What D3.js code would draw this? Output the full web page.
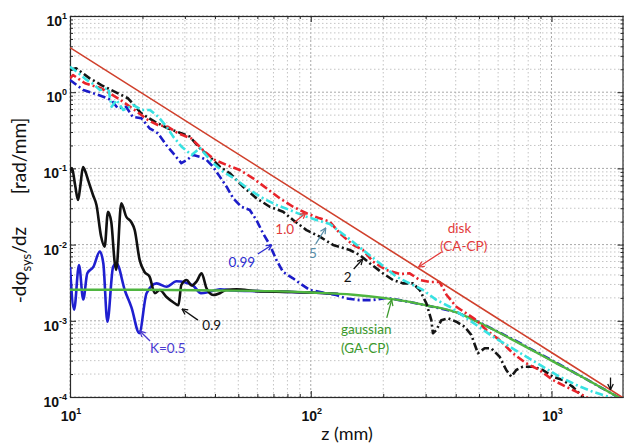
<!DOCTYPE html>
<html><head><meta charset="utf-8">
<script src="https://cdn.jsdelivr.net/npm/d3@7"></script>
<style>body{margin:0;background:#fff}svg{display:block}</style>
</head><body>
<svg id="c" width="624" height="446"></svg>
<script>
// ---------- data ----------
const diskZ = [10, 100, 1000, 2000];
const diskY = [3.84, 0.0384, 3.84e-4, 9.6e-5];

const gaussZ = [10, 20, 40, 70, 100, 150, 200, 250, 300, 400, 500, 700, 1000, 1400, 2000];
const gaussY = [2.55e-3, 2.55e-3, 2.5e-3, 2.45e-3, 2.35e-3, 2.2e-3, 2.0e-3, 1.8e-3, 1.6e-3, 1.3e-3, 9.5e-4, 5.5e-4, 3.0e-4, 1.7e-4, 9.0e-5];

const k05Z = [10, 10.4, 10.9, 11.35, 11.8, 12.5, 13.3, 13.75, 14.3, 15.1, 15.6, 16.9, 18.0, 19.4, 20.8, 22.9, 25.2, 27.7, 30.0, 32.5, 35, 38, 42, 47.5, 60, 80, 100, 130];
const k05Y = [5.1e-3, 1.4e-3, 5.4e-3, 1.9e-3, 4.2e-3, 5.1e-3, 8.1e-3, 5.7e-3, 9.7e-4, 5.1e-3, 5.7e-3, 2.5e-3, 1.5e-3, 6.9e-4, 2.3e-3, 3.1e-3, 2.8e-3, 3.3e-3, 3.2e-3, 2.9e-3, 2.3e-3, 2.4e-3, 2.6e-3, 2.5e-3, 2.45e-3, 2.4e-3, 2.35e-3, 2.25e-3];

const k09Z = [10, 10.19, 10.5, 10.8, 11.05, 11.32, 11.6, 11.88, 12.46, 12.88, 13.45, 13.93, 14.38, 14.84, 15.33, 15.56, 16.33, 17.13, 17.96, 18.56, 19.46, 20.4, 21.4, 22.5, 23.6, 25.1, 27.2, 28.2, 29.0, 30.5, 32.0, 33.6, 35.2, 36.9, 39.3, 41.9, 44.4, 49.2, 60, 80, 100, 130];
const k09Y = [0.09, 0.101, 0.0605, 0.0385, 0.0605, 0.104, 0.0897, 0.0705, 0.0448, 0.0331, 0.013, 0.0094, 0.027, 0.0198, 0.0059, 0.00465, 0.0348, 0.0232, 0.0198, 0.0156, 0.0063, 0.00437, 0.0038, 0.0023, 0.00254, 0.00207, 0.0017, 0.0016, 0.00295, 0.00343, 0.0029, 0.0033, 0.0042, 0.00267, 0.00218, 0.0023, 0.00254, 0.0026, 0.00245, 0.0024, 0.00235, 0.00225];

const k099Z = [10, 10.66, 11.35, 12.5, 13.75, 14.84, 15.8, 17.1, 18.2, 19.8, 21.4, 23.2, 25.1, 27.2, 29.0, 30.6, 32.5, 34.6, 36.9, 39.3, 41.9, 44.7, 47.6, 51.5, 55.8, 59.5, 63.3, 67.6, 72.0, 76.7, 84.4, 89.8, 99, 112, 127.6, 140, 159, 180, 206, 250, 300, 400, 500, 700, 1000, 1400, 2000];
const k099Y = [1.45, 1.24, 1.07, 0.967, 0.873, 0.79, 0.615, 0.645, 0.477, 0.455, 0.336, 0.289, 0.203, 0.15, 0.117, 0.129, 0.15, 0.142, 0.129, 0.105, 0.078, 0.0575, 0.0406, 0.0314, 0.0284, 0.021, 0.0141, 0.0099, 0.0063, 0.00437, 0.00361, 0.00313, 0.00254, 0.00235, 0.00218, 0.00197, 0.00187, 0.00187, 0.00199, 0.0018, 0.0016, 0.00131, 0.00096, 0.00056, 0.000305, 0.00017, 0.00009];

const k2Z = [10, 10.6, 12.07, 13.49, 15.82, 17.41, 19.76, 22.46, 25.51, 28.96, 31.47, 34.62, 38.09, 41.92, 46.12, 52.37, 59.51, 67.56, 76.75, 84.45, 96.0, 109, 123.8, 145.2, 159.7, 175.7, 199.5, 219.5, 241.5, 265.7, 283.5, 302, 316.8, 321.7, 332.3, 348.6, 371.3, 402.3, 435.5, 464.4, 494.6, 527.2, 562.1, 608.4, 648.6, 680.4, 713.6, 760.3, 836.5, 920, 1013, 1114, 1226, 1349, 1420];
const k2Y = [1.96, 2.06, 1.52, 1.24, 0.967, 0.832, 0.528, 0.41, 0.336, 0.289, 0.261, 0.184, 0.142, 0.105, 0.0863, 0.0575, 0.0405, 0.0314, 0.027, 0.021, 0.0155, 0.0127, 0.0099, 0.0085, 0.0073, 0.00569, 0.0042, 0.00343, 0.0031, 0.0031, 0.00254, 0.0017, 0.00102, 0.000686, 0.000757, 0.00102, 0.00108, 0.000973, 0.000837, 0.000651, 0.000375, 0.000436, 0.000436, 0.000338, 0.000226, 0.000185, 0.000226, 0.00025, 0.00025, 0.000226, 0.000185, 0.000167, 0.000136, 0.0001, 0.00008];

const k1Z = [10, 10.29, 11.54, 13.49, 15.82, 18.56, 21.07, 23.18, 25.51, 28.06, 31.87, 36.23, 39.98, 44.69, 50.74, 57.62, 65.48, 74.37, 84.45, 96.0, 109, 119.9, 131.9, 149.8, 164.8, 181.3, 206.2, 234.1, 257.5, 283.5, 311.8, 343, 366.7, 402.3, 442.6, 487.2, 535.8, 608.4, 691, 785, 891.8, 1013, 1151, 1307, 1438];
const k1Y = [1.52, 1.68, 1.31, 1.125, 0.832, 0.584, 0.432, 0.371, 0.352, 0.289, 0.248, 0.166, 0.129, 0.111, 0.0953, 0.0741, 0.0548, 0.0405, 0.0314, 0.0258, 0.0221, 0.02, 0.0141, 0.0099, 0.0085, 0.00597, 0.00464, 0.00411, 0.0042, 0.00343, 0.00323, 0.00323, 0.00218, 0.00153, 0.00125, 0.00102, 0.000757, 0.00056, 0.000375, 0.000277, 0.000226, 0.000167, 0.000136, 0.000112, 0.000094];

const k5Z = [10, 10.66, 11.73, 12.49, 13.32, 14.42, 14.89, 15.62, 16.64, 18.31, 19.84, 21.48, 23.25, 25.19, 26.83, 29.07, 31.99, 34.62, 39.31, 43.26, 49.18, 55.8, 63.4, 72.05, 81.85, 96.0, 112.5, 119.9, 140.7, 164.8, 193.4, 226.8, 257.5, 292.4, 332.3, 377.5, 415.3, 487.2, 570.7, 669.6, 785, 920, 1079, 1266, 1484, 1741, 1900];
const k5Y = [2.16, 1.86, 1.45, 1.28, 1.07, 1.125, 0.645, 0.79, 0.584, 0.679, 0.584, 0.584, 0.477, 0.352, 0.261, 0.193, 0.15, 0.185, 0.117, 0.0905, 0.0705, 0.052, 0.0405, 0.0331, 0.0284, 0.0232, 0.0198, 0.0186, 0.0127, 0.0085, 0.00569, 0.00379, 0.0031, 0.00254, 0.00188, 0.00153, 0.00125, 0.000881, 0.000619, 0.000457, 0.000338, 0.00025, 0.000185, 0.000144, 0.000117, 0.0001, 0.00009];

const xTickLabels = ["1", "2", "3"];          // exponents of 10 on z axis
const yTickLabels = ["-4", "-3", "-2", "-1", "0", "1"];

// annotations (text) in data coordinates
const annoText  = ["1.0", "5", "2", "0.99", "0.9", "K=0.5", "gaussian", "(GA-CP)", "disk", "(CA-CP)"];
const annoZ     = [78, 102, 142.4, 51.7, 38.8, 25.5, 170, 168, 415, 431.5];
const annoY     = [0.016, 0.0078, 0.00376, 0.0059, 8.8e-4, 4.4e-4, 7.7e-4, 4.4e-4, 0.0165, 0.0094];
const annoColor = ["#e23b3b", "#5a8ea8", "#111", "#2b2bd0", "#111", "#4a3ad0", "#3c9a2c", "#3c9a2c", "#e23b3b", "#e23b3b"];
// annotation arrows: from (z,y) to (z,y)
const arrFromZ = [85, 104.9, 150.8, 60.3, 34.0, 21.5, 206.8, 349.7, 1758];
const arrFromY = [0.0192, 0.0102, 0.00478, 0.00753, 1.02e-3, 5.43e-4, 1.09e-3, 0.008, 1.8e-4];
const arrToZ   = [95.3, 115.4, 164.4, 68.9, 29.2, 19.5, 216.8, 280.5, 1758];
const arrToY   = [0.026, 0.0165, 0.00647, 0.0099, 1.43e-3, 7.35e-4, 1.88e-3, 0.00508, 1.25e-4];
const arrColor = ["#e23b3b", "#5a8ea8", "#111", "#2b2bd0", "#111", "#4a3ad0", "#3c9a2c", "#e23b3b", "#111"];

// ---------- drawing ----------
const svg = d3.select('#c');
const L = 70, R = 624, T = 16, B = 397;
const x = d3.scaleLog().domain([10, 2000]).range([L, R]);
const y = d3.scaleLog().domain([1e-4, 10]).range([B, T]);

const xMajor = [10, 100, 1000];
const yMajor = [1e-4, 1e-3, 1e-2, 1e-1, 1, 10];
const xAll = [];
[10, 100, 1000].forEach(d => { for (let m = 1; m <= 9; m++) if (m * d <= 2000) xAll.push(m * d); });
xAll.push(2000);
const yAll = [];
[1e-4, 1e-3, 1e-2, 1e-1, 1].forEach(d => { for (let m = 1; m <= 9; m++) yAll.push(+(m * d).toPrecision(3)); });
yAll.push(10);
const isMajorX = v => xMajor.some(m => Math.abs(m - v) < 1e-9);
const isMajorY = v => yMajor.some(m => Math.abs(m / v - 1) < 1e-6);

// grid
const grid = svg.append('g');
xAll.forEach(v => grid.append('line')
  .attr('x1', x(v)).attr('x2', x(v)).attr('y1', T).attr('y2', B)
  .attr('stroke', isMajorX(v) ? '#a8a8a8' : '#c4c4c4')
  .attr('stroke-width', 1).attr('stroke-dasharray', isMajorX(v) ? '2,2' : '1.5,2.5'));
yAll.forEach(v => grid.append('line')
  .attr('x1', L).attr('x2', R).attr('y1', y(v)).attr('y2', y(v))
  .attr('stroke', isMajorY(v) ? '#a8a8a8' : '#c4c4c4')
  .attr('stroke-width', 1).attr('stroke-dasharray', isMajorY(v) ? '2,2' : '1.5,2.5'));

// axes with inward ticks
function styleAxis(g, majorTest, len) {
  g.select('.domain').remove();
  g.selectAll('.tick line').attr('stroke', '#222').each(function(d) {
    const ln = d3.select(this);
    const big = majorTest(d);
    ['x2', 'y2'].forEach(a => { const v = +ln.attr(a); if (v) ln.attr(a, Math.sign(v) * (big ? len * 2 : len)); });
  });
  g.selectAll('.tick text').remove();
}
svg.append('g').attr('transform', `translate(0,${B})`)
  .call(d3.axisBottom(x).tickValues(xAll).tickSizeInner(-3).tickSizeOuter(0).tickFormat(() => ''))
  .call(g => styleAxis(g, isMajorX, 3));
svg.append('g').attr('transform', `translate(0,${T})`)
  .call(d3.axisTop(x).tickValues(xAll).tickSizeInner(-3).tickSizeOuter(0).tickFormat(() => ''))
  .call(g => styleAxis(g, isMajorX, 3));
svg.append('g').attr('transform', `translate(${L},0)`)
  .call(d3.axisLeft(y).tickValues(yAll).tickSizeInner(-3).tickSizeOuter(0).tickFormat(() => ''))
  .call(g => styleAxis(g, isMajorY, 3));
svg.append('g').attr('transform', `translate(${R - 0.5},0)`)
  .call(d3.axisRight(y).tickValues(yAll).tickSizeInner(-3).tickSizeOuter(0).tickFormat(() => ''))
  .call(g => styleAxis(g, isMajorY, 3));

// frame
svg.append('rect').attr('x', L + 0.5).attr('y', T + 0.5).attr('width', R - L - 1.5).attr('height', B - T)
  .attr('fill', 'none').attr('stroke', '#2a2a2a').attr('stroke-width', 1.2);

// tick labels
const tickFont = "'Liberation Sans', Arial, sans-serif";
xMajor.forEach((v, i) => {
  const t = svg.append('text').attr('x', x(v) + 1).attr('y', 421).attr('text-anchor', 'middle')
    .attr('font-family', tickFont).attr('font-weight', 'bold').attr('font-size', 14).attr('fill', '#111');
  t.append('tspan').text('10');
  t.append('tspan').attr('dy', -7).attr('font-size', 9).text(xTickLabels[i]);
});
yMajor.forEach((v, i) => {
  const t = svg.append('text').attr('x', 67).attr('y', y(v) + 10).attr('text-anchor', 'end')
    .attr('font-family', tickFont).attr('font-weight', 'bold').attr('font-size', 14).attr('fill', '#111');
  t.append('tspan').text('10');
  t.append('tspan').attr('dy', -7).attr('font-size', 9).text(yTickLabels[i]);
});

// axis titles
const labFont = "Lato, 'Open Sans', sans-serif";
svg.append('text').attr('x', 347).attr('y', 440).attr('text-anchor', 'middle')
  .attr('font-family', labFont).attr('font-size', 18).attr('fill', '#111').text('z (mm)');
svg.append('text').attr('transform', 'translate(26,156) rotate(-90)').attr('text-anchor', 'middle')
  .attr('font-family', labFont).attr('font-size', 19).attr('fill', '#111').text('[rad/mm]');
const yl = svg.append('text').attr('transform', 'translate(26,265) rotate(-90)').attr('text-anchor', 'middle')
  .attr('font-family', labFont).attr('font-size', 19).attr('fill', '#111');
yl.append('tspan').text('-dφ');
yl.append('tspan').attr('dy', 5).attr('font-size', 13).text('sys');
yl.append('tspan').attr('dy', -5).text('/dz');

// curves
svg.append('clipPath').attr('id', 'clip').append('rect')
  .attr('x', L).attr('y', T).attr('width', R - L).attr('height', B - T);
const plot = svg.append('g').attr('clip-path', 'url(#clip)');
const zip = (a, b) => a.map((v, i) => [v, b[i]]);
const lineSmooth = d3.line().x(d => x(d[0])).y(d => y(d[1])).curve(d3.curveMonotoneX);
const lineRaw = d3.line().x(d => x(d[0])).y(d => y(d[1]));
const DD = '8,3,2,3';
function draw(zs, ys, color, w, dash, gen) {
  plot.append('path').datum(zip(zs, ys)).attr('d', gen).attr('fill', 'none')
    .attr('stroke', color).attr('stroke-width', w).attr('stroke-linejoin', 'round')
    .attr('stroke-dasharray', dash || null);
}
draw(k05Z, k05Y, '#1f1fd0', 2.6, null, lineSmooth);
draw(k09Z, k09Y, '#111111', 2.6, null, lineSmooth);
draw(k099Z, k099Y, '#1c1cc8', 2.6, DD, lineRaw);
draw(gaussZ, gaussY, '#4fb63f', 2.4, null, lineSmooth);
draw(k2Z, k2Y, '#151515', 2.6, DD, lineRaw);
draw(k1Z, k1Y, '#e8232a', 2.6, DD, lineRaw);
draw(k5Z, k5Y, '#38e2e2', 2.6, DD, lineRaw);
draw(diskZ, diskY, '#d0402c', 1.6, null, lineRaw);

// annotations
const defs = svg.append('defs');
const uniq = [...new Set(arrColor)];
uniq.forEach((c, i) => {
  defs.append('marker').attr('id', 'ah' + i).attr('viewBox', '0 0 10 10').attr('refX', 9).attr('refY', 5)
    .attr('markerWidth', 7).attr('markerHeight', 7).attr('orient', 'auto-start-reverse')
    .attr('markerUnits', 'userSpaceOnUse')
    .append('path').attr('d', 'M1,1 L9,5 L1,9').attr('fill', 'none').attr('stroke', c).attr('stroke-width', 1.8);
});
arrFromZ.forEach((z, i) => {
  svg.append('line').attr('x1', x(z)).attr('y1', y(arrFromY[i])).attr('x2', x(arrToZ[i])).attr('y2', y(arrToY[i]))
    .attr('stroke', arrColor[i]).attr('stroke-width', 1.3)
    .attr('marker-end', `url(#ah${uniq.indexOf(arrColor[i])})`);
});
annoText.forEach((t, i) => {
  svg.append('text').attr('x', x(annoZ[i])).attr('y', y(annoY[i])).attr('dy', '0.35em')
    .attr('text-anchor', 'middle').attr('font-family', labFont).attr('font-size', 13.5)
    .attr('fill', annoColor[i]).text(t);
});
</script>
</body></html>
